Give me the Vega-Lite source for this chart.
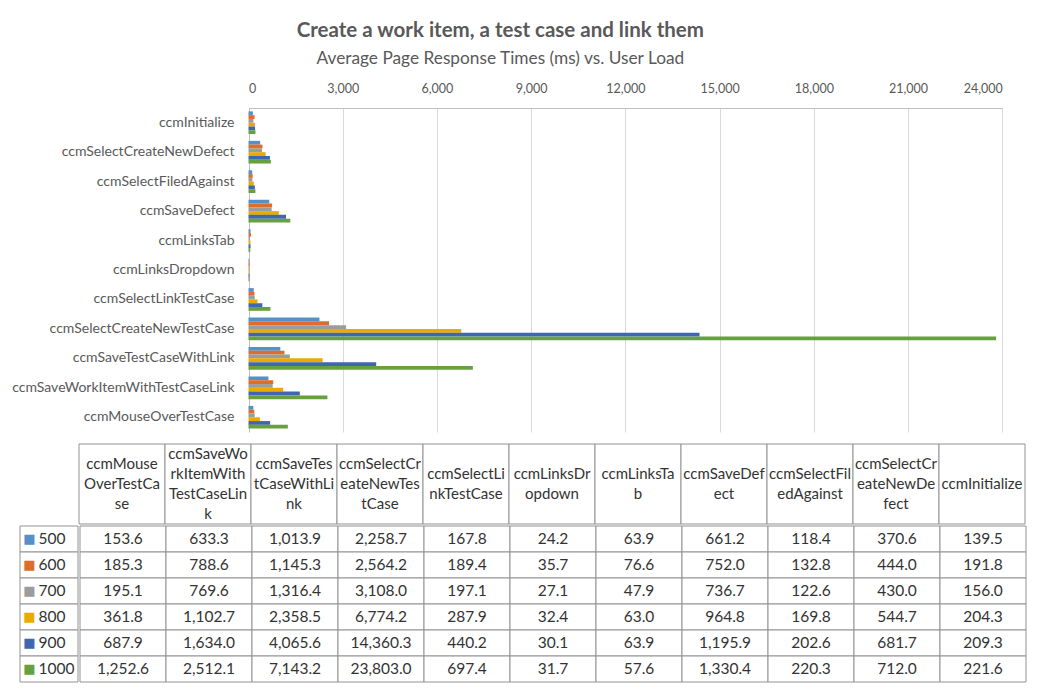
{
  "$schema": "https://vega.github.io/schema/vega-lite/v6.json",
  "background": "white",
  "padding": {"left": 12, "top": 21, "right": 0, "bottom": 0},
  "title": {
    "text": "Create a work item, a test case and link them",
    "subtitle": "Average Page Response Times (ms) vs. User Load",
    "font": "Lato", "fontSize": 20.5, "fontWeight": "bold", "color": "#595959",
    "subtitleFont": "Lato", "subtitleFontSize": 17.3, "subtitleColor": "#595959",
    "subtitlePadding": 8, "anchor": "middle", "offset": 15, "dx": -19
  },
  "config": {
    "view": {"stroke": null},
    "text": {"font": "Lato"},
    "axis": {"labelFont": "Lato"}
  },
  "datasets": {
    "perf": [
      {"cat": "ccmMouseOverTestCase", "load": 500, "ms": 153.6},
      {"cat": "ccmMouseOverTestCase", "load": 600, "ms": 185.3},
      {"cat": "ccmMouseOverTestCase", "load": 700, "ms": 195.1},
      {"cat": "ccmMouseOverTestCase", "load": 800, "ms": 361.8},
      {"cat": "ccmMouseOverTestCase", "load": 900, "ms": 687.9},
      {"cat": "ccmMouseOverTestCase", "load": 1000, "ms": 1252.6},
      {"cat": "ccmSaveWorkItemWithTestCaseLink", "load": 500, "ms": 633.3},
      {"cat": "ccmSaveWorkItemWithTestCaseLink", "load": 600, "ms": 788.6},
      {"cat": "ccmSaveWorkItemWithTestCaseLink", "load": 700, "ms": 769.6},
      {"cat": "ccmSaveWorkItemWithTestCaseLink", "load": 800, "ms": 1102.7},
      {"cat": "ccmSaveWorkItemWithTestCaseLink", "load": 900, "ms": 1634.0},
      {"cat": "ccmSaveWorkItemWithTestCaseLink", "load": 1000, "ms": 2512.1},
      {"cat": "ccmSaveTestCaseWithLink", "load": 500, "ms": 1013.9},
      {"cat": "ccmSaveTestCaseWithLink", "load": 600, "ms": 1145.3},
      {"cat": "ccmSaveTestCaseWithLink", "load": 700, "ms": 1316.4},
      {"cat": "ccmSaveTestCaseWithLink", "load": 800, "ms": 2358.5},
      {"cat": "ccmSaveTestCaseWithLink", "load": 900, "ms": 4065.6},
      {"cat": "ccmSaveTestCaseWithLink", "load": 1000, "ms": 7143.2},
      {"cat": "ccmSelectCreateNewTestCase", "load": 500, "ms": 2258.7},
      {"cat": "ccmSelectCreateNewTestCase", "load": 600, "ms": 2564.2},
      {"cat": "ccmSelectCreateNewTestCase", "load": 700, "ms": 3108.0},
      {"cat": "ccmSelectCreateNewTestCase", "load": 800, "ms": 6774.2},
      {"cat": "ccmSelectCreateNewTestCase", "load": 900, "ms": 14360.3},
      {"cat": "ccmSelectCreateNewTestCase", "load": 1000, "ms": 23803.0},
      {"cat": "ccmSelectLinkTestCase", "load": 500, "ms": 167.8},
      {"cat": "ccmSelectLinkTestCase", "load": 600, "ms": 189.4},
      {"cat": "ccmSelectLinkTestCase", "load": 700, "ms": 197.1},
      {"cat": "ccmSelectLinkTestCase", "load": 800, "ms": 287.9},
      {"cat": "ccmSelectLinkTestCase", "load": 900, "ms": 440.2},
      {"cat": "ccmSelectLinkTestCase", "load": 1000, "ms": 697.4},
      {"cat": "ccmLinksDropdown", "load": 500, "ms": 24.2},
      {"cat": "ccmLinksDropdown", "load": 600, "ms": 35.7},
      {"cat": "ccmLinksDropdown", "load": 700, "ms": 27.1},
      {"cat": "ccmLinksDropdown", "load": 800, "ms": 32.4},
      {"cat": "ccmLinksDropdown", "load": 900, "ms": 30.1},
      {"cat": "ccmLinksDropdown", "load": 1000, "ms": 31.7},
      {"cat": "ccmLinksTab", "load": 500, "ms": 63.9},
      {"cat": "ccmLinksTab", "load": 600, "ms": 76.6},
      {"cat": "ccmLinksTab", "load": 700, "ms": 47.9},
      {"cat": "ccmLinksTab", "load": 800, "ms": 63.0},
      {"cat": "ccmLinksTab", "load": 900, "ms": 63.9},
      {"cat": "ccmLinksTab", "load": 1000, "ms": 57.6},
      {"cat": "ccmSaveDefect", "load": 500, "ms": 661.2},
      {"cat": "ccmSaveDefect", "load": 600, "ms": 752.0},
      {"cat": "ccmSaveDefect", "load": 700, "ms": 736.7},
      {"cat": "ccmSaveDefect", "load": 800, "ms": 964.8},
      {"cat": "ccmSaveDefect", "load": 900, "ms": 1195.9},
      {"cat": "ccmSaveDefect", "load": 1000, "ms": 1330.4},
      {"cat": "ccmSelectFiledAgainst", "load": 500, "ms": 118.4},
      {"cat": "ccmSelectFiledAgainst", "load": 600, "ms": 132.8},
      {"cat": "ccmSelectFiledAgainst", "load": 700, "ms": 122.6},
      {"cat": "ccmSelectFiledAgainst", "load": 800, "ms": 169.8},
      {"cat": "ccmSelectFiledAgainst", "load": 900, "ms": 202.6},
      {"cat": "ccmSelectFiledAgainst", "load": 1000, "ms": 220.3},
      {"cat": "ccmSelectCreateNewDefect", "load": 500, "ms": 370.6},
      {"cat": "ccmSelectCreateNewDefect", "load": 600, "ms": 444.0},
      {"cat": "ccmSelectCreateNewDefect", "load": 700, "ms": 430.0},
      {"cat": "ccmSelectCreateNewDefect", "load": 800, "ms": 544.7},
      {"cat": "ccmSelectCreateNewDefect", "load": 900, "ms": 681.7},
      {"cat": "ccmSelectCreateNewDefect", "load": 1000, "ms": 712.0},
      {"cat": "ccmInitialize", "load": 500, "ms": 139.5},
      {"cat": "ccmInitialize", "load": 600, "ms": 191.8},
      {"cat": "ccmInitialize", "load": 700, "ms": 156.0},
      {"cat": "ccmInitialize", "load": 800, "ms": 204.3},
      {"cat": "ccmInitialize", "load": 900, "ms": 209.3},
      {"cat": "ccmInitialize", "load": 1000, "ms": 221.6}
    ],
    "headers": [
      {"cat": "ccmMouseOverTestCase", "header": "ccmMouse\nOverTestCa\nse"},
      {"cat": "ccmSaveWorkItemWithTestCaseLink", "header": "ccmSaveWo\nrkItemWith\nTestCaseLin\nk"},
      {"cat": "ccmSaveTestCaseWithLink", "header": "ccmSaveTes\ntCaseWithLi\nnk"},
      {"cat": "ccmSelectCreateNewTestCase", "header": "ccmSelectCr\neateNewTes\ntCase"},
      {"cat": "ccmSelectLinkTestCase", "header": "ccmSelectLi\nnkTestCase"},
      {"cat": "ccmLinksDropdown", "header": "ccmLinksDr\nopdown"},
      {"cat": "ccmLinksTab", "header": "ccmLinksTa\nb"},
      {"cat": "ccmSaveDefect", "header": "ccmSaveDef\nect"},
      {"cat": "ccmSelectFiledAgainst", "header": "ccmSelectFil\nedAgainst"},
      {"cat": "ccmSelectCreateNewDefect", "header": "ccmSelectCr\neateNewDe\nfect"},
      {"cat": "ccmInitialize", "header": "ccmInitialize"}
    ],
    "loads": [
      {"load": 500}, {"load": 600}, {"load": 700}, {"load": 800}, {"load": 900}, {"load": 1000}
    ]
  },
  "spacing": 11,
  "vconcat": [
    {
      "width": 1004,
      "height": 324,
      "layer": [
        {
          "data": {"name": "perf"},
          "mark": {"type": "bar"},
          "encoding": {
            "y": {
              "field": "cat", "type": "nominal",
              "sort": ["ccmInitialize", "ccmSelectCreateNewDefect", "ccmSelectFiledAgainst", "ccmSaveDefect", "ccmLinksTab", "ccmLinksDropdown", "ccmSelectLinkTestCase", "ccmSelectCreateNewTestCase", "ccmSaveTestCaseWithLink", "ccmSaveWorkItemWithTestCaseLink", "ccmMouseOverTestCase"],
              "scale": {"paddingInner": 0.23, "paddingOuter": 0.115},
              "axis": null
            },
            "yOffset": {"field": "load", "type": "ordinal", "sort": "ascending"},
            "x": {
              "field": "ms", "type": "quantitative",
              "scale": {"domain": [0, 24000], "range": [228.5, 982.3], "nice": false},
              "axis": {
                "orient": "top", "title": null,
                "values": [0, 3000, 6000, 9000, 12000, 15000, 18000, 21000, 24000],
                "format": ",d", "ticks": false,
                "domain": true, "domainColor": "#BFBFBF", "domainWidth": 1,
                "grid": true,
                "gridColor": {"condition": {"test": "datum.value === 0", "value": "#BFBFBF"}, "value": "#D9D9D9"},
                "labelFontSize": 12.5, "labelColor": "#595959", "labelPadding": 13
              }
            },
            "color": {
              "field": "load", "type": "ordinal",
              "scale": {"domain": [500, 600, 700, 800, 900, 1000], "range": ["#5590C8", "#DC6D2B", "#9C9C9C", "#EAAA00", "#3F67B1", "#66A03F"]},
              "legend": null
            }
          }
        },
        {
          "data": {"name": "headers"},
          "mark": {"type": "text", "align": "right", "baseline": "middle", "dx": -14, "fontSize": 14, "color": "#595959"},
          "encoding": {
            "y": {"field": "cat", "type": "nominal", "sort": ["ccmInitialize", "ccmSelectCreateNewDefect", "ccmSelectFiledAgainst", "ccmSaveDefect", "ccmLinksTab", "ccmLinksDropdown", "ccmSelectLinkTestCase", "ccmSelectCreateNewTestCase", "ccmSaveTestCaseWithLink", "ccmSaveWorkItemWithTestCaseLink", "ccmMouseOverTestCase"]},
            "x": {"datum": 0, "type": "quantitative"},
            "text": {"field": "cat"}
          }
        }
      ]
    },
    {
      "spacing": 0,
      "vconcat": [
        {
          "spacing": 0,
          "hconcat": [
            {
              "width": 58, "height": 80,
              "data": {"values": []},
              "mark": "text",
              "encoding": {}
            },
            {
              "width": 946, "height": 80,
              "data": {"name": "headers"},
              "encoding": {
                "x": {"field": "cat", "type": "nominal", "sort": ["ccmMouseOverTestCase", "ccmSaveWorkItemWithTestCaseLink", "ccmSaveTestCaseWithLink", "ccmSelectCreateNewTestCase", "ccmSelectLinkTestCase", "ccmLinksDropdown", "ccmLinksTab", "ccmSaveDefect", "ccmSelectFiledAgainst", "ccmSelectCreateNewDefect", "ccmInitialize"], "scale": {"paddingInner": 0, "paddingOuter": 0}, "axis": null}
              },
              "layer": [
                {
                  "mark": {"type": "rect", "fill": "white", "stroke": "#929292", "strokeWidth": 1},
                  "encoding": {
                    "y": {"value": 0},
                    "y2": {"value": "height"}
                  }
                },
                {
                  "transform": [{"filter": {"field": "cat", "oneOf": ["ccmInitialize"]}}],
                  "mark": {"type": "text", "align": "center", "baseline": "middle", "lineBreak": "\n", "lineHeight": 20, "dy": 0, "fontSize": 15, "color": "#333333"},
                  "encoding": {"text": {"field": "header"}}
                },
                {
                  "transform": [{"filter": {"field": "cat", "oneOf": ["ccmSelectLinkTestCase", "ccmLinksDropdown", "ccmLinksTab", "ccmSaveDefect", "ccmSelectFiledAgainst"]}}],
                  "mark": {"type": "text", "align": "center", "baseline": "middle", "lineBreak": "\n", "lineHeight": 20, "dy": -10, "fontSize": 15, "color": "#333333"},
                  "encoding": {"text": {"field": "header"}}
                },
                {
                  "transform": [{"filter": {"field": "cat", "oneOf": ["ccmMouseOverTestCase", "ccmSaveTestCaseWithLink", "ccmSelectCreateNewTestCase", "ccmSelectCreateNewDefect"]}}],
                  "mark": {"type": "text", "align": "center", "baseline": "middle", "lineBreak": "\n", "lineHeight": 20, "dy": -20, "fontSize": 15, "color": "#333333"},
                  "encoding": {"text": {"field": "header"}}
                },
                {
                  "transform": [{"filter": {"field": "cat", "oneOf": ["ccmSaveWorkItemWithTestCaseLink"]}}],
                  "mark": {"type": "text", "align": "center", "baseline": "middle", "lineBreak": "\n", "lineHeight": 20, "dy": -30, "fontSize": 15, "color": "#333333"},
                  "encoding": {"text": {"field": "header"}}
                }
              ]
            }
          ]
        },
        {
          "spacing": 0,
          "hconcat": [
            {
              "width": 58, "height": 156,
              "data": {"name": "loads"},
              "layer": [
                {
                  "mark": {"type": "rect", "fill": "white", "stroke": "#929292", "strokeWidth": 1},
                  "encoding": {
                    "y": {"field": "load", "type": "ordinal", "sort": "ascending", "scale": {"paddingInner": 0, "paddingOuter": 0}, "axis": null},
                    "x": {"value": 0},
                    "x2": {"value": "width"}
                  }
                },
                {
                  "mark": {"type": "text", "align": "center", "baseline": "middle", "dx": -19.5, "dy": 0, "font": "DejaVu Sans", "fontSize": 13},
                  "encoding": {
                    "y": {"field": "load", "type": "ordinal", "sort": "ascending"},
                    "text": {"value": "■"},
                    "color": {"field": "load", "type": "ordinal", "scale": {"domain": [500, 600, 700, 800, 900, 1000], "range": ["#5590C8", "#DC6D2B", "#9C9C9C", "#EAAA00", "#3F67B1", "#66A03F"]}, "legend": null}
                  }
                },
                {
                  "mark": {"type": "text", "align": "left", "baseline": "middle", "dx": -10.5, "fontSize": 15.5, "color": "#333333"},
                  "encoding": {
                    "y": {"field": "load", "type": "ordinal", "sort": "ascending"},
                    "text": {"field": "load"}
                  }
                }
              ]
            },
            {
              "width": 946, "height": 156,
              "data": {"name": "perf"},
              "encoding": {
                "x": {"field": "cat", "type": "nominal", "sort": ["ccmMouseOverTestCase", "ccmSaveWorkItemWithTestCaseLink", "ccmSaveTestCaseWithLink", "ccmSelectCreateNewTestCase", "ccmSelectLinkTestCase", "ccmLinksDropdown", "ccmLinksTab", "ccmSaveDefect", "ccmSelectFiledAgainst", "ccmSelectCreateNewDefect", "ccmInitialize"], "scale": {"paddingInner": 0, "paddingOuter": 0}, "axis": null},
                "y": {"field": "load", "type": "ordinal", "sort": "ascending", "scale": {"paddingInner": 0, "paddingOuter": 0}, "axis": null}
              },
              "layer": [
                {
                  "mark": {"type": "rect", "fill": "white", "stroke": "#929292", "strokeWidth": 1}
                },
                {
                  "mark": {"type": "text", "align": "center", "baseline": "middle", "fontSize": 15.5, "color": "#333333"},
                  "encoding": {
                    "text": {"field": "ms", "type": "quantitative", "format": ",.1f"}
                  }
                }
              ]
            }
          ]
        }
      ]
    }
  ]
}
